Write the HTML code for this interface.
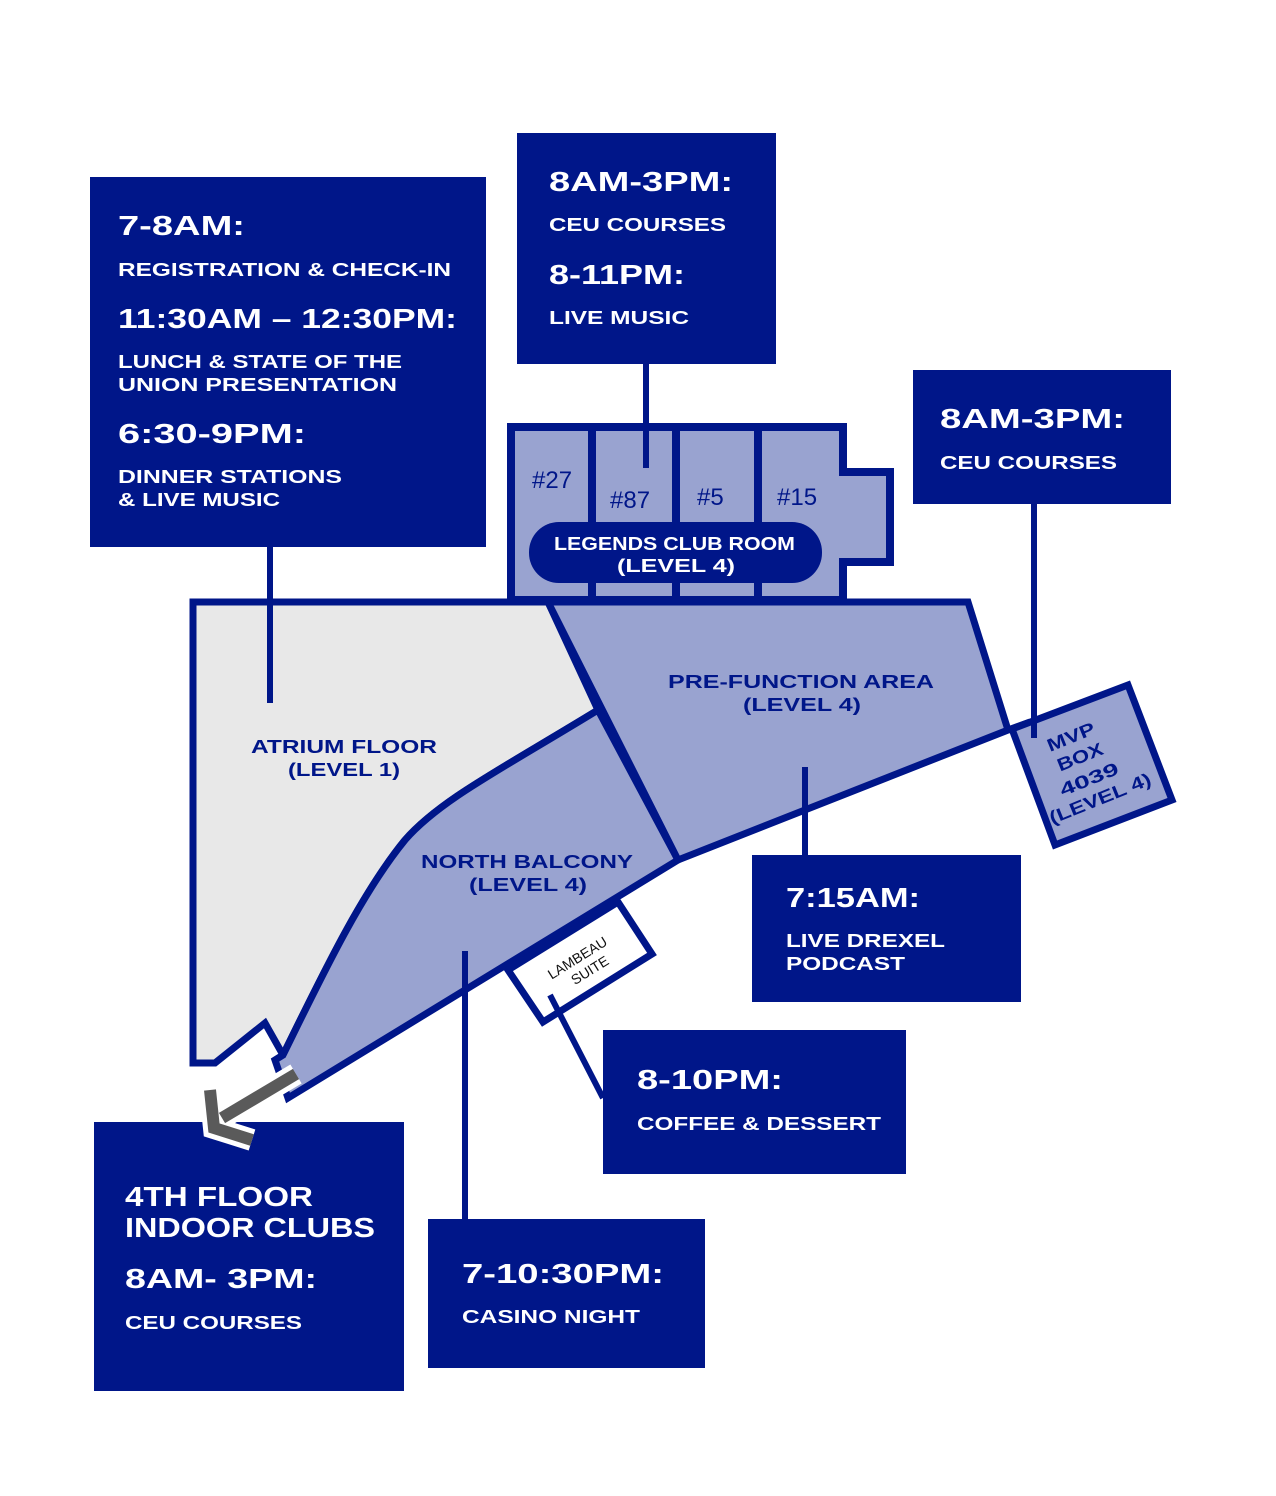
<!DOCTYPE html>
<html><head><meta charset="utf-8"><style>
html,body{margin:0;padding:0;background:#fff}
svg{display:block}
.w{fill:#fff;font-family:"Liberation Sans",sans-serif;font-weight:bold}
.b{fill:#001689;font-family:"Liberation Sans",sans-serif;font-weight:bold}
.n{fill:#001689;font-family:"Liberation Sans",sans-serif}
</style></head><body>
<svg width="1276" height="1496" viewBox="0 0 1276 1496" xmlns="http://www.w3.org/2000/svg">
<g fill="#001689">
<rect x="90" y="177" width="396" height="370"/>
<rect x="517" y="133" width="259" height="231"/>
<rect x="913" y="370" width="258" height="134"/>
<rect x="752" y="855" width="269" height="147"/>
<rect x="603" y="1030" width="303" height="144"/>
<rect x="428" y="1219" width="277" height="149"/>
<rect x="94" y="1122" width="310" height="269"/>
</g>
<!-- atrium -->
<path d="M193,602 L548,602 L598,710 C500,770 440,800 405,840 C360,895 320,980 283,1055 L265,1023 L215,1063 L193,1063 Z" fill="#e8e8e8" stroke="#001689" stroke-width="7" stroke-linejoin="miter"/>
<!-- north balcony -->
<path d="M598,710 L678,860 L288,1098 L275,1060 L283,1055 C320,980 360,895 405,840 C440,800 500,770 598,710 Z" fill="#99a3d0" stroke="#001689" stroke-width="7"/>
<!-- pre-function -->
<path d="M548,602 L968,602 L1008,730 L678,860 Z" fill="#99a3d0" stroke="#001689" stroke-width="7" stroke-linejoin="miter"/>
<line x1="1008" y1="730" x2="1030" y2="722" stroke="#001689" stroke-width="7"/>
<!-- MVP box -->
<path d="M1012,729 L1128,685 L1172,800 L1055,845 Z" fill="#99a3d0" stroke="#001689" stroke-width="7"/>
<!-- legends -->
<path d="M511,427 L843,427 L843,472 L890,472 L890,562 L843,562 L843,600 L511,600 Z" fill="#99a3d0" stroke="#001689" stroke-width="8"/>
<g stroke="#001689" stroke-width="8"><line x1="592" y1="427" x2="592" y2="600"/><line x1="676" y1="427" x2="676" y2="600"/><line x1="758" y1="427" x2="758" y2="600"/></g>
<rect x="529" y="522" width="293" height="61" rx="30" fill="#001689"/>
<!-- lambeau -->
<path d="M508,970 L618,902 L652,954 L543,1022 Z" fill="#fff" stroke="#001689" stroke-width="7"/>
<!-- connectors -->
<g stroke="#001689" stroke-width="6" fill="none">
<line x1="270" y1="547" x2="270" y2="703"/>
<line x1="646" y1="364" x2="646" y2="468"/>
<line x1="1034" y1="504" x2="1034" y2="738"/>
<line x1="805" y1="767" x2="805" y2="855"/>
<line x1="465" y1="951" x2="465" y2="1219"/>
<line x1="550" y1="995" x2="603" y2="1098"/>
</g>
<!-- arrow -->
<g stroke-linecap="butt" stroke-linejoin="miter">
<path d="M296,1074 L222,1118 M210,1090 L214,1128 L252,1140" stroke="#fff" stroke-width="22" fill="none"/>
<path d="M296,1074 L222,1118 M210,1090 L214,1128 L252,1140" stroke="#5a5a5a" stroke-width="12" fill="none"/>
</g>
<!-- box texts -->
<g class="w">
<text x="118" y="235" font-size="28" textLength="127" lengthAdjust="spacingAndGlyphs">7-8AM:</text>
<text x="118" y="276" font-size="18" textLength="333" lengthAdjust="spacingAndGlyphs">REGISTRATION &amp; CHECK-IN</text>
<text x="118" y="328" font-size="28" textLength="339" lengthAdjust="spacingAndGlyphs">11:30AM – 12:30PM:</text>
<text x="118" y="368" font-size="18" textLength="284" lengthAdjust="spacingAndGlyphs">LUNCH &amp; STATE OF THE</text>
<text x="118" y="391" font-size="18" textLength="279" lengthAdjust="spacingAndGlyphs">UNION PRESENTATION</text>
<text x="118" y="443" font-size="28" textLength="188" lengthAdjust="spacingAndGlyphs">6:30-9PM:</text>
<text x="118" y="483" font-size="18" textLength="224" lengthAdjust="spacingAndGlyphs">DINNER STATIONS</text>
<text x="118" y="506" font-size="18" textLength="162" lengthAdjust="spacingAndGlyphs">&amp; LIVE MUSIC</text>

<text x="549" y="191" font-size="28" textLength="184" lengthAdjust="spacingAndGlyphs">8AM-3PM:</text>
<text x="549" y="231" font-size="18" textLength="177" lengthAdjust="spacingAndGlyphs">CEU COURSES</text>
<text x="549" y="284" font-size="28" textLength="136" lengthAdjust="spacingAndGlyphs">8-11PM:</text>
<text x="549" y="324" font-size="18" textLength="140" lengthAdjust="spacingAndGlyphs">LIVE MUSIC</text>

<text x="940" y="428" font-size="28" textLength="185" lengthAdjust="spacingAndGlyphs">8AM-3PM:</text>
<text x="940" y="469" font-size="18" textLength="177" lengthAdjust="spacingAndGlyphs">CEU COURSES</text>

<text x="786" y="907" font-size="28" textLength="134" lengthAdjust="spacingAndGlyphs">7:15AM:</text>
<text x="786" y="947" font-size="18" textLength="159" lengthAdjust="spacingAndGlyphs">LIVE DREXEL</text>
<text x="786" y="970" font-size="18" textLength="119" lengthAdjust="spacingAndGlyphs">PODCAST</text>

<text x="637" y="1089" font-size="28" textLength="146" lengthAdjust="spacingAndGlyphs">8-10PM:</text>
<text x="637" y="1130" font-size="18" textLength="244" lengthAdjust="spacingAndGlyphs">COFFEE &amp; DESSERT</text>

<text x="462" y="1283" font-size="28" textLength="202" lengthAdjust="spacingAndGlyphs">7-10:30PM:</text>
<text x="462" y="1323" font-size="18" textLength="178" lengthAdjust="spacingAndGlyphs">CASINO NIGHT</text>

<text x="125" y="1206" font-size="28" textLength="188" lengthAdjust="spacingAndGlyphs">4TH FLOOR</text>
<text x="125" y="1237" font-size="28" textLength="250" lengthAdjust="spacingAndGlyphs">INDOOR CLUBS</text>
<text x="125" y="1288" font-size="28" textLength="192" lengthAdjust="spacingAndGlyphs">8AM- 3PM:</text>
<text x="125" y="1329" font-size="18" textLength="177" lengthAdjust="spacingAndGlyphs">CEU COURSES</text>

<text x="554" y="550" font-size="18" textLength="241" lengthAdjust="spacingAndGlyphs">LEGENDS CLUB ROOM</text>
<text x="617" y="572" font-size="18" textLength="118" lengthAdjust="spacingAndGlyphs">(LEVEL 4)</text>
</g>
<g class="b" font-size="18">
<text x="251" y="753" textLength="186" lengthAdjust="spacingAndGlyphs">ATRIUM FLOOR</text>
<text x="288" y="776" textLength="112" lengthAdjust="spacingAndGlyphs">(LEVEL 1)</text>
<text x="668" y="688" textLength="266" lengthAdjust="spacingAndGlyphs">PRE-FUNCTION AREA</text>
<text x="743" y="711" textLength="118" lengthAdjust="spacingAndGlyphs">(LEVEL 4)</text>
<text x="421" y="868" textLength="212" lengthAdjust="spacingAndGlyphs">NORTH BALCONY</text>
<text x="469" y="891" textLength="118" lengthAdjust="spacingAndGlyphs">(LEVEL 4)</text>
<g transform="translate(1050,752) rotate(-22)">
<text x="0" y="0" textLength="50" lengthAdjust="spacingAndGlyphs">MVP</text>
<text x="2" y="22" textLength="48" lengthAdjust="spacingAndGlyphs">BOX</text>
<text x="-5" y="46" textLength="62" lengthAdjust="spacingAndGlyphs">4039</text>
<text x="-25" y="68" textLength="108" lengthAdjust="spacingAndGlyphs">(LEVEL 4)</text>
</g>
</g>
<g class="n" font-size="24">
<text x="532" y="488">#27</text>
<text x="610" y="508">#87</text>
<text x="697" y="505">#5</text>
<text x="777" y="505">#15</text>
</g>
<g font-family="Liberation Sans,sans-serif" font-size="14" fill="#111" text-anchor="middle" transform="translate(580,962) rotate(-32)">
<text x="0" y="0">LAMBEAU</text>
<text x="4" y="17">SUITE</text>
</g>
</svg>
</body></html>
